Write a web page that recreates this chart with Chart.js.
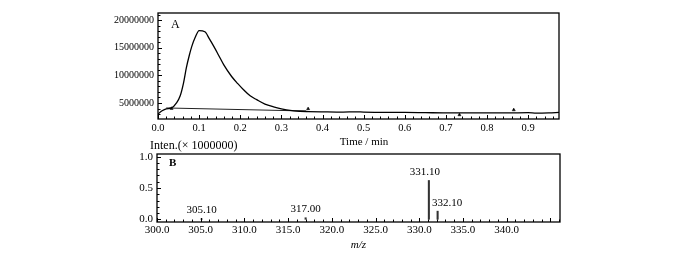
<!DOCTYPE html>
<html>
<head>
<meta charset="utf-8">
<script src="https://cdn.jsdelivr.net/npm/chart.js@4.4.1/dist/chart.umd.min.js"></script>
<style>
  html, body { margin: 0; padding: 0; background: #fff; }
  #wrap { position: relative; width: 700px; height: 262px; overflow: hidden; }
  canvas { position: absolute; left: 0; }
  #cA { top: 0; }
  #cB { top: 140px; }
</style>
</head>
<body>
<div id="wrap">
  <canvas id="cA" width="700" height="150"></canvas>
  <canvas id="cB" width="700" height="122"></canvas>
</div>
<script>
// ---------- Panel A: chromatogram ----------
const timeMin = [0.000, 0.010, 0.020, 0.033, 0.045, 0.054, 0.062, 0.069, 0.076, 0.082, 0.090, 0.100, 0.114, 0.125, 0.136, 0.147, 0.160, 0.179, 0.194, 0.208, 0.224, 0.240, 0.260, 0.281, 0.300, 0.321, 0.345, 0.365, 0.400, 0.450, 0.480, 0.500, 0.550, 0.600, 0.650, 0.700, 0.750, 0.800, 0.850, 0.900, 0.920, 0.950, 0.975];
const intensity = [3.0e6, 3.6e6, 3.95e6, 4.1e6, 5.0e6, 6.3e6, 8.6e6, 11.4e6, 13.6e6, 15.2e6, 16.8e6, 18.1e6, 17.9e6, 16.6e6, 15.2e6, 13.7e6, 11.9e6, 9.8e6, 8.5e6, 7.4e6, 6.3e6, 5.6e6, 4.8e6, 4.3e6, 3.95e6, 3.65e6, 3.5e6, 3.45e6, 3.4e6, 3.35e6, 3.4e6, 3.35e6, 3.3e6, 3.3e6, 3.25e6, 3.2e6, 3.2e6, 3.2e6, 3.2e6, 3.25e6, 3.15e6, 3.2e6, 3.3e6];
const baselineTime = [0.020, 0.360];
const baselineIntensity = [4.1e6, 3.55e6];
const markerTime = [0.033, 0.365, 0.733, 0.865];
const markerIntensity = [4.0e6, 3.95e6, 2.85e6, 3.75e6];
const xTicksA = [0.0, 0.1, 0.2, 0.3, 0.4, 0.5, 0.6, 0.7, 0.8, 0.9];
const yTicksA = [5000000, 10000000, 15000000, 20000000];

// ---------- Panel B: mass spectrum ----------
const mz = [305.10, 317.00, 331.10, 332.10];
const relInten = [0.008, 0.025, 0.62, 0.13];
const xTicksB = [300, 305, 310, 315, 320, 325, 330, 335, 340];
const yTicksB = [0.0, 0.5, 1.0];

const SERIF = '"Liberation Serif", "Times New Roman", serif';
Chart.defaults.font.family = SERIF;
Chart.defaults.color = '#000';

function framePlugin(cfg) {
  return {
    id: 'frame',
    afterDraw(chart) {
      const {ctx, chartArea: a, scales: {x, y}} = chart;
      ctx.save();
      ctx.strokeStyle = '#000';
      ctx.lineWidth = 1.3;
      ctx.strokeRect(a.left, a.top, a.right - a.left, a.bottom - a.top);
      ctx.lineWidth = 1;
      ctx.beginPath();
      const eps = 1e-9;
      for (let k = Math.ceil(x.min / cfg.xMinor - eps); k * cfg.xMinor <= x.max + eps; k++) {
        const v = k * cfg.xMinor;
        const major = Math.abs(v / cfg.xMajor - Math.round(v / cfg.xMajor)) < 1e-6;
        const px = Math.round(x.getPixelForValue(v)) + 0.5;
        ctx.moveTo(px, a.bottom);
        ctx.lineTo(px, a.bottom - (major ? 4 : 2.5));
      }
      for (let k = Math.ceil(y.min / cfg.yMinor - eps); k * cfg.yMinor <= y.max + eps; k++) {
        const v = k * cfg.yMinor;
        const major = Math.abs(v / cfg.yMajor - Math.round(v / cfg.yMajor)) < 1e-6;
        const py = Math.round(y.getPixelForValue(v)) + 0.5;
        ctx.moveTo(a.left, py);
        ctx.lineTo(a.left + (major ? 4 : 2.5), py);
      }
      ctx.stroke();
      ctx.fillStyle = '#000';
      for (const t of cfg.texts) {
        ctx.font = t.font;
        ctx.textAlign = t.align || 'left';
        ctx.textBaseline = 'middle';
        ctx.fillText(t.text, t.x, t.y);
      }
      ctx.restore();
    }
  };
}

// Chart A
new Chart(document.getElementById('cA'), {
  type: 'line',
  data: {
    datasets: [
      {
        data: timeMin.map((t, i) => ({x: t, y: intensity[i]})),
        borderColor: '#000', borderWidth: 1.3, pointRadius: 0,
        cubicInterpolationMode: 'monotone', fill: false
      },
      {
        data: baselineTime.map((t, i) => ({x: t, y: baselineIntensity[i]})),
        borderColor: '#222', borderWidth: 1, pointRadius: 0, fill: false
      },
      {
        data: markerTime.map((t, i) => ({x: t, y: markerIntensity[i]})),
        showLine: false, pointStyle: 'triangle', pointRadius: 1.8,
        backgroundColor: '#000', borderColor: '#000', borderWidth: 0.5
      }
    ]
  },
  options: {
    responsive: false, animation: false, devicePixelRatio: 1,
    layout: {padding: {left: 0, top: 13, right: 141, bottom: 0}},
    plugins: {legend: {display: false}, tooltip: {enabled: false}},
    scales: {
      x: {
        type: 'linear', min: 0, max: 0.975,
        grid: {display: false, drawTicks: false},
        border: {display: false},
        afterBuildTicks: s => { s.ticks = xTicksA.map(v => ({value: v})); },
        afterFit: s => { s.height = 31; },
        ticks: {padding: 3, font: {size: 10.5, family: SERIF}, color: '#000', maxRotation: 0,
                callback: v => Number(v).toFixed(1)},
        title: {display: false}
      },
      y: {
        type: 'linear', min: 2100000, max: 21300000,
        grid: {display: false, drawTicks: false},
        border: {display: false},
        afterBuildTicks: s => { s.ticks = yTicksA.map(v => ({value: v})); },
        afterFit: s => { s.width = 158; },
        ticks: {padding: 4, font: {size: 10, family: SERIF}, color: '#000',
                callback: v => String(v)}
      }
    }
  },
  plugins: [framePlugin({
    xMinor: 0.02, xMajor: 0.1, yMinor: 1000000, yMajor: 5000000,
    texts: [
      {text: 'A', x: 171, y: 25, font: '12px ' + SERIF},
      {text: 'Time / min', x: 364, y: 142.5, font: '11px ' + SERIF, align: 'center'}
    ]
  })]
});

// Chart B
const peakLabelOffsets = [0, 0, -4, 9.5];
const peakLabelPlugin = {
  id: 'peakLabels',
  afterDatasetsDraw(chart) {
    const {ctx, scales: {x, y}} = chart;
    ctx.save();
    ctx.font = '11px ' + SERIF;
    ctx.fillStyle = '#000';
    ctx.textAlign = 'center';
    ctx.textBaseline = 'middle';
    mz.forEach((m, i) => {
      const px = x.getPixelForValue(m) + peakLabelOffsets[i];
      const py = y.getPixelForValue(relInten[i]) - 8.5;
      ctx.fillText(m.toFixed(2), px, py);
    });
    ctx.restore();
  }
};

new Chart(document.getElementById('cB'), {
  type: 'bar',
  data: {
    datasets: [{
      data: mz.map((m, i) => ({x: m, y: relInten[i]})),
      backgroundColor: '#333', borderWidth: 0, barThickness: 1.4
    }]
  },
  options: {
    responsive: false, animation: false, devicePixelRatio: 1,
    layout: {padding: {left: 0, top: 14, right: 140, bottom: 0}},
    plugins: {legend: {display: false}, tooltip: {enabled: false}},
    scales: {
      x: {
        type: 'linear', min: 300, max: 346.1, offset: false,
        grid: {display: false, drawTicks: false, offset: false},
        border: {display: false},
        afterBuildTicks: s => { s.ticks = xTicksB.map(v => ({value: v})); },
        afterFit: s => { s.height = 40; },
        ticks: {padding: 2, font: {size: 11, family: SERIF}, color: '#000', maxRotation: 0,
                callback: v => Number(v).toFixed(1)},
        title: {display: true, text: 'm/z', font: {size: 11, family: SERIF, style: 'italic'}, color: '#000',
                padding: {top: 0, bottom: 10}}
      },
      y: {
        type: 'linear', min: -0.043, max: 1.043,
        grid: {display: false, drawTicks: false},
        border: {display: false},
        afterBuildTicks: s => { s.ticks = yTicksB.map(v => ({value: v})); },
        afterFit: s => { s.width = 157; },
        ticks: {padding: 4, font: {size: 11, family: SERIF}, color: '#000',
                callback: v => Number(v).toFixed(1)}
      }
    }
  },
  plugins: [peakLabelPlugin, framePlugin({
    xMinor: 1, xMajor: 5, yMinor: 0.1, yMajor: 0.5,
    texts: [
      {text: 'B', x: 169, y: 23, font: 'bold 11px ' + SERIF},
      {text: 'Inten.(× 1000000)', x: 150, y: 6, font: '12px ' + SERIF}
    ]
  })]
});
</script>
</body>
</html>
